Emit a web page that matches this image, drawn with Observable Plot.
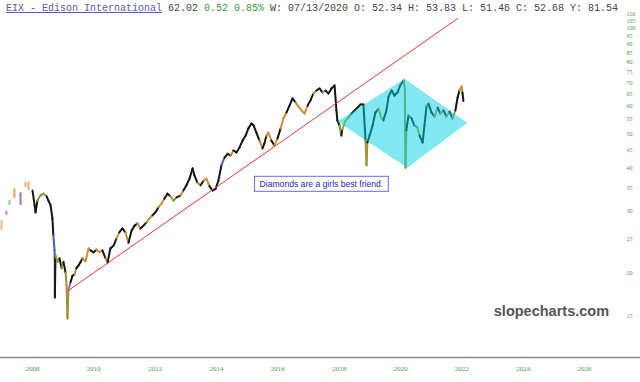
<!DOCTYPE html>
<html>
<head>
<meta charset="utf-8">
<script src="https://cdn.jsdelivr.net/npm/d3@7"></script>
<script src="https://cdn.jsdelivr.net/npm/@observablehq/plot@0.6"></script>
<style>
  html, body { margin: 0; padding: 0; background: #fff; overflow: hidden; }
  #wrap { position: relative; width: 640px; height: 382px; }
  #title { position: absolute; left: 6px; top: 2px; font: 10px "Liberation Mono", monospace; line-height: 14px; color: #444; white-space: pre; z-index: 2; }
  #title .name { color: #5858b0; text-decoration: underline; }
  #title .up { color: #3a9a3a; }
</style>
</head>
<body>
<div id="wrap">
  <div id="title"><span class="name">EIX - Edison International</span> 62.02 <span class="up">0.52 0.85%</span> W: 07/13/2020 O: 52.34 H: 53.83 L: 51.46 C: 52.68 Y: 81.54</div>
</div>
<script>
// ---- data (decimal years, prices) ----
const years = [2008.00,2008.07,2008.10,2008.16,2008.26,2008.36,2008.46,2008.52,2008.59,2008.65,
2008.68,2008.72,2008.73,2008.75,2008.82,2008.88,2008.95,2009.01,2009.08,2009.11,
2009.14,2009.17,2009.24,2009.30,2009.37,2009.43,2009.50,2009.57,2009.63,2009.73,
2009.83,2009.89,2009.99,2010.09,2010.18,2010.28,2010.38,2010.45,2010.54,2010.64,
2010.74,2010.83,2010.93,2011.03,2011.13,2011.23,2011.33,2011.42,2011.52,2011.62,
2011.72,2011.81,2011.91,2012.01,2012.11,2012.21,2012.30,2012.40,2012.50,2012.60,
2012.70,2012.83,2012.92,2013.02,2013.12,2013.22,2013.28,2013.38,2013.48,2013.58,
2013.67,2013.77,2013.87,2013.97,2014.06,2014.16,2014.26,2014.36,2014.46,2014.55,
2014.65,2014.75,2014.85,2014.95,2015.04,2015.14,2015.21,2015.30,2015.40,2015.50,
2015.56,2015.63,2015.69,2015.79,2015.89,2015.99,2016.09,2016.18,2016.28,2016.38,
2016.48,2016.58,2016.67,2016.77,2016.87,2016.97,2017.06,2017.16,2017.26,2017.36,
2017.46,2017.55,2017.65,2017.75,2017.85,2017.91,2017.94,2018.01,2018.07,2018.10,
2018.21,2018.30,2018.40,2018.50,2018.60,2018.69,2018.79,2018.86,2018.89,2018.92,
2018.99,2019.09,2019.18,2019.28,2019.38,2019.44,2019.54,2019.61,2019.71,2019.80,
2019.90,2019.99,2020.10,2020.14,2020.16,2020.19,2020.26,2020.36,2020.45,2020.55,
2020.62,2020.72,2020.78,2020.85,2020.91,2021.01,2021.11,2021.21,2021.30,2021.40,
2021.50,2021.60,2021.69,2021.79,2021.86,2021.92,2021.99,2022.02,2022.05];
const closes = [34.4,31.2,29.8,32.2,33.3,33.7,33.1,32.2,31.2,28.6,
25.6,23.2,17.0,22.4,21.5,22.0,20.6,21.5,20.0,18.4,
14.8,17.8,18.8,19.6,19.8,20.6,21.0,21.5,22.0,21.6,
23.5,23.2,22.9,23.3,22.9,23.2,22.0,21.4,23.5,23.9,
25.1,26.1,26.8,26.1,24.4,26.4,27.3,27.7,26.8,27.3,
27.9,28.6,29.2,29.8,30.8,31.6,32.6,33.7,33.1,32.2,
32.9,33.3,34.4,35.6,37.2,39.8,38.0,36.2,35.6,36.7,
37.2,35.4,34.4,34.8,36.7,40.6,42.7,43.8,43.3,44.8,
44.2,45.7,47.8,49.4,51.8,53.5,52.8,50.4,47.8,45.4,
46.9,49.4,50.4,47.8,46.3,48.5,51.8,55.3,57.5,60.2,
63.1,61.4,59.8,58.3,57.1,60.2,62.2,65.2,66.5,67.4,
65.6,66.5,65.2,67.4,68.7,58.3,54.6,52.8,49.4,51.4,
54.6,55.6,57.1,58.3,59.4,60.6,60.6,47.8,40.6,47.2,
49.4,52.8,57.5,58.9,55.3,54.6,58.3,63.9,66.5,64.3,
65.6,68.7,71.0,67.4,40.0,51.1,56.4,55.3,52.8,52.1,
49.4,47.2,52.8,60.2,61.0,57.5,56.0,59.4,57.1,58.3,
56.0,57.9,55.3,58.3,63.5,66.5,68.3,65.6,62.0];
const barColors = ("kkkygykkkk" + "bbkyykykyy" + "ypkkokkkoo" + "okkookykkk" + "okkokkkokk" +
  "ookkookkog" + "kokkkkkoko" + "okkkkbkkok" + "kkkkkkkkok" + "kookokookk" +
  "kooookkokk" + "okkkkkkgko" + "ogkkkkkyyk" + "kkkookkkkk" + "kkyyykbkbo" +
  "kkkokkokok" + "okokkookk").split("");
const palette = {k: "#151515", o: "#c89032", y: "#a39232", g: "#55a83e", b: "#4a5fb0", p: "#b060c0"};

// early sparse bars (2007)
const earlyYears = [2006.99, 2007.15, 2007.25, 2007.41, 2007.61, 2007.77, 2007.87];
const earlyLow   = [26.4, 29.2, 31.2, 32.6, 31.2, 35.1, 34.4];
const earlyHigh  = [28.2, 30.0, 32.2, 34.8, 33.9, 36.3, 36.3];
const earlyColor = ["#f2b088", "#e07ad0", "#86d486", "#f2a65a", "#9a70c8", "#f2b070", "#eea27a"];

// trend line and diamond
const trendYears = [2009.17, 2021.86];
const trendValues = [17.8, 106.8];
const diamondYears  = [2017.94, 2020.13, 2022.18, 2020.22, 2017.94];
const diamondValues = [54.2, 71.8, 53.8, 40.0, 54.2];

// axes
const xTicks = [2008, 2010, 2012, 2014, 2016, 2018, 2020, 2022, 2024, 2026];
const yTicks = [15, 20, 25, 30, 35, 40, 45, 50, 55, 60, 65, 70, 75, 80, 85, 90, 95, 100, 105, 110];
const xDomain = [2006.957, 2027.172];
const xRightEdge = 2027.824;
const yDomain = [11.45, 120.3];

// annotations
const noteText = "Diamonds are a girls best friend.";
const noteYear = 2017.42, noteValue = 35.9;
const markText = "slopecharts.com";
const markYear = 2024.92, markValue = 15.5;

const green = "#4a9a4a";

const segs = d3.range(years.length - 1).map(i => ({
  x1: years[i], y1: closes[i], x2: years[i + 1], y2: closes[i + 1],
  c: palette[barColors[i]] ?? palette.k
}));
const early = earlyYears.map((t, i) => ({t, lo: earlyLow[i], hi: earlyHigh[i], c: earlyColor[i]}));
const trend = trendYears.map((t, i) => ({t, v: trendValues[i]}));
const diamond = diamondYears.map((t, i) => ({t, v: diamondValues[i]}));

const chart = Plot.plot({
  width: 640, height: 382,
  marginLeft: 0, marginRight: 20, marginTop: 0, marginBottom: 25,
  x: {type: "linear", domain: xDomain},
  y: {type: "log", domain: yDomain},
  color: {type: "identity"},
  style: {background: "transparent", fontFamily: "Liberation Sans"},
  marks: [
    Plot.ruleY([yDomain[0]], {x1: xDomain[0], x2: xRightEdge, stroke: "#8a8a8a", strokeWidth: 1.6}),
    Plot.axisX(xTicks, {tickSize: 0, tickPadding: 9, fontSize: 7, fill: green, fontFamily: "Liberation Serif", tickFormat: d => String(d)}),
    Plot.axisY(yTicks, {anchor: "right", tickSize: 0, tickPadding: 6, fontSize: 6, fill: green, fontFamily: "Liberation Serif", tickFormat: d => String(d)}),
    Plot.ruleX(early, {x: "t", y1: "lo", y2: "hi", stroke: "c", strokeWidth: 2}),
    Plot.link(segs, {x1: "x1", y1: "y1", x2: "x2", y2: "y2", stroke: "c", strokeWidth: 2, strokeLinecap: "round"}),
    Plot.line(diamond, {x: "t", y: "v", fill: "#00d2e4", fillOpacity: 0.5, stroke: "none"}),
    Plot.line(trend, {x: "t", y: "v", stroke: "#e03a3a", strokeWidth: 1}),
    Plot.text([noteText], {x: noteYear, y: noteValue, text: d => d, fontSize: 8.6, fill: "#2525c8", fontFamily: "Liberation Sans"}),
    Plot.text([markText], {x: markYear, y: markValue, text: d => d, fontSize: 14.5, fontWeight: "bold", fill: "#555", fontFamily: "Liberation Sans"})
  ]
});
chart.style.position = "absolute";
chart.style.left = "0";
chart.style.top = "0";
document.getElementById("wrap").appendChild(chart);

// box around the note
const noteEl = Array.from(chart.querySelectorAll("text")).find(t => t.textContent === noteText);
if (noteEl) {
  const bb = noteEl.getBBox();
  const ns = "http://www.w3.org/2000/svg";
  const r = document.createElementNS(ns, "rect");
  r.setAttribute("x", bb.x - 5);
  r.setAttribute("y", bb.y - 2.5);
  r.setAttribute("width", bb.width + 10);
  r.setAttribute("height", bb.height + 5);
  r.setAttribute("fill", "#fff");
  r.setAttribute("stroke", "#6b6bd8");
  r.setAttribute("stroke-width", "1");
  const tr = noteEl.getAttribute("transform");
  if (tr) r.setAttribute("transform", tr);
  noteEl.parentNode.insertBefore(r, noteEl);
}
</script>
</body>
</html>
